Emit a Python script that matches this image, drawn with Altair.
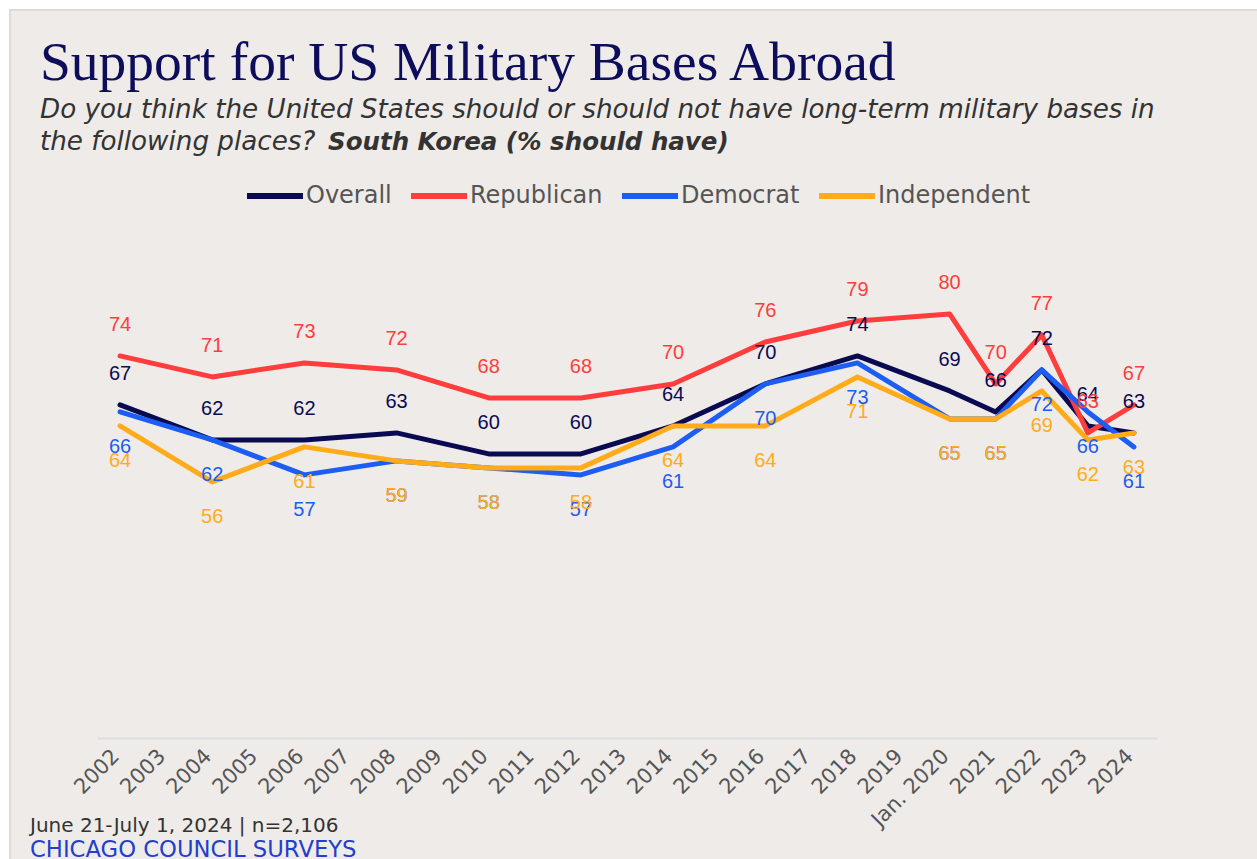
import altair as alt
import pandas as pd

# ---- data -------------------------------------------------------------
CATEGORIES = ["2002", "2003", "2004", "2005", "2006", "2007", "2008", "2009",
              "2010", "2011", "2012", "2013", "2014", "2015", "2016", "2017",
              "2018", "2019", "Jan. 2020", "2021", "2022", "2023", "2024"]
SURVEY_YEARS = ["2002", "2004", "2006", "2008", "2010", "2012", "2014", "2016",
                "2018", "Jan. 2020", "2021", "2022", "2023", "2024"]
OVERALL = [67, 62, 62, 63, 60, 60, 64, 70, 74, 69, 66, 72, 64, 63]
REPUBLICAN = [74, 71, 73, 72, 68, 68, 70, 76, 79, 80, 70, 77, 63, 67]
DEMOCRAT = [66, 62, 57, 59, 58, 57, 61, 70, 73, 65, 65, 72, 66, 61]
INDEPENDENT = [64, 56, 61, 59, 58, 58, 64, 64, 71, 65, 65, 69, 62, 63]
SERIES = ["Overall", "Republican", "Democrat", "Independent"]
COLORS = ["#0a0a52", "#ff3d3d", "#1c5ef2", "#ffab1a"]

TITLE = "Support for US Military Bases Abroad"
SUB1 = "Do you think the United States should or should not have long-term military bases in"
SUB2 = "the following places?"
SUB2_BOLD = "South Korea (% should have)"
FOOT1 = "June 21-July 1, 2024 | n=2,106"
FOOT2 = "CHICAGO COUNCIL SURVEYS"

rows = []
for name, vals in zip(SERIES, [OVERALL, REPUBLICAN, DEMOCRAT, INDEPENDENT]):
    for i, (yr, v) in enumerate(zip(SURVEY_YEARS, vals)):
        rows.append({"series": name, "year": yr, "value": v, "order": i})
df = pd.DataFrame(rows)

W, H = 1060, 564
BG = "#efebe8"

color = alt.Color(
    "series:N",
    scale=alt.Scale(domain=SERIES, range=COLORS),
    legend=alt.Legend(
        title=None, orient="none", direction="horizontal",
        legendX=147, legendY=-9,
        symbolType="stroke", symbolSize=3136, symbolStrokeWidth=6,
        labelFont="DejaVu Sans", labelFontSize=24, labelColor="#555555",
        labelOffset=0, columnPadding=7, padding=0,
    ),
)

x = alt.X(
    "year:N",
    scale=alt.Scale(type="point", domain=CATEGORIES, padding=0.5),
    axis=alt.Axis(
        title=None, labelAngle=-45, labelFont="DejaVu Sans", labelFontSize=21,
        labelColor="#555555", labelPadding=19, labelBaseline="alphabetic",
        ticks=False, grid=False,
        domainColor="#dddddd", domainWidth=2, labelOverlap=False, zindex=1,
    ),
)
y = alt.Y("value:Q", scale=alt.Scale(domain=[19.4, 100], nice=False, zero=False),
          axis=None)

base = alt.Chart(df)

one = alt.Data(values=[{"k": 1}])

background = alt.Chart(one).mark_rect(
    fill=BG, stroke="#dcdcdc", strokeWidth=2
).encode(x=alt.value(-87), x2=alt.value(W + 120),
         y=alt.value(-164), y2=alt.value(H + 140))

layers = [background]
for s in SERIES:
    layers.append(
        base.transform_filter(alt.datum.series == s)
        .mark_line(strokeWidth=5, strokeCap="round", strokeJoin="round")
        .encode(x=x, y=y, color=color, order="order:Q")
    )

above = base.transform_filter(
    alt.FieldOneOfPredicate(field="series", oneOf=["Overall", "Republican"])
).mark_text(font="Liberation Sans", fontSize=20, dy=-31, baseline="middle").encode(
    x=x, y=y, text="value:Q", color=color)
below = base.transform_filter(
    alt.FieldOneOfPredicate(field="series", oneOf=["Democrat", "Independent"])
).mark_text(font="Liberation Sans", fontSize=20, dy=35, baseline="middle").encode(
    x=x, y=y, text="value:Q", color=color)
layers += [above, below]

def txt(text, xv, yv, **kw):
    return alt.Chart(one).mark_text(text=text, align="left", baseline="alphabetic", **kw).encode(
        x=alt.value(xv), y=alt.value(yv))

layers += [
    txt(TITLE, -57, -94, font="Liberation Serif", fontSize=55.5, color="#0d0d5c"),
    txt(SUB1, -57, -56, font="DejaVu Sans", fontSize=26.2, fontStyle="italic", color="#333333"),
    txt(SUB2, -57, -24, font="DejaVu Sans", fontSize=26.2, fontStyle="italic", color="#333333"),
    txt(SUB2_BOLD, 231, -24, font="DejaVu Sans", fontSize=24.5, fontStyle="italic",
        fontWeight="bold", color="#333333"),
    txt(FOOT1, -67, 658, font="DejaVu Sans", fontSize=20, color="#333333"),
    txt(FOOT2, -67, 683, font="DejaVu Sans", fontSize=22.7, color="#1f3fcc"),
]

chart = alt.layer(*layers).properties(
    width=W, height=H,
    autosize=alt.AutoSizeParams(type="none"),
    padding={"left": 97, "top": 174, "right": 100, "bottom": 121},
    background="white",
).configure_view(strokeWidth=0)

chart.save("out.html", embed_options={"renderer": "svg", "actions": False})
